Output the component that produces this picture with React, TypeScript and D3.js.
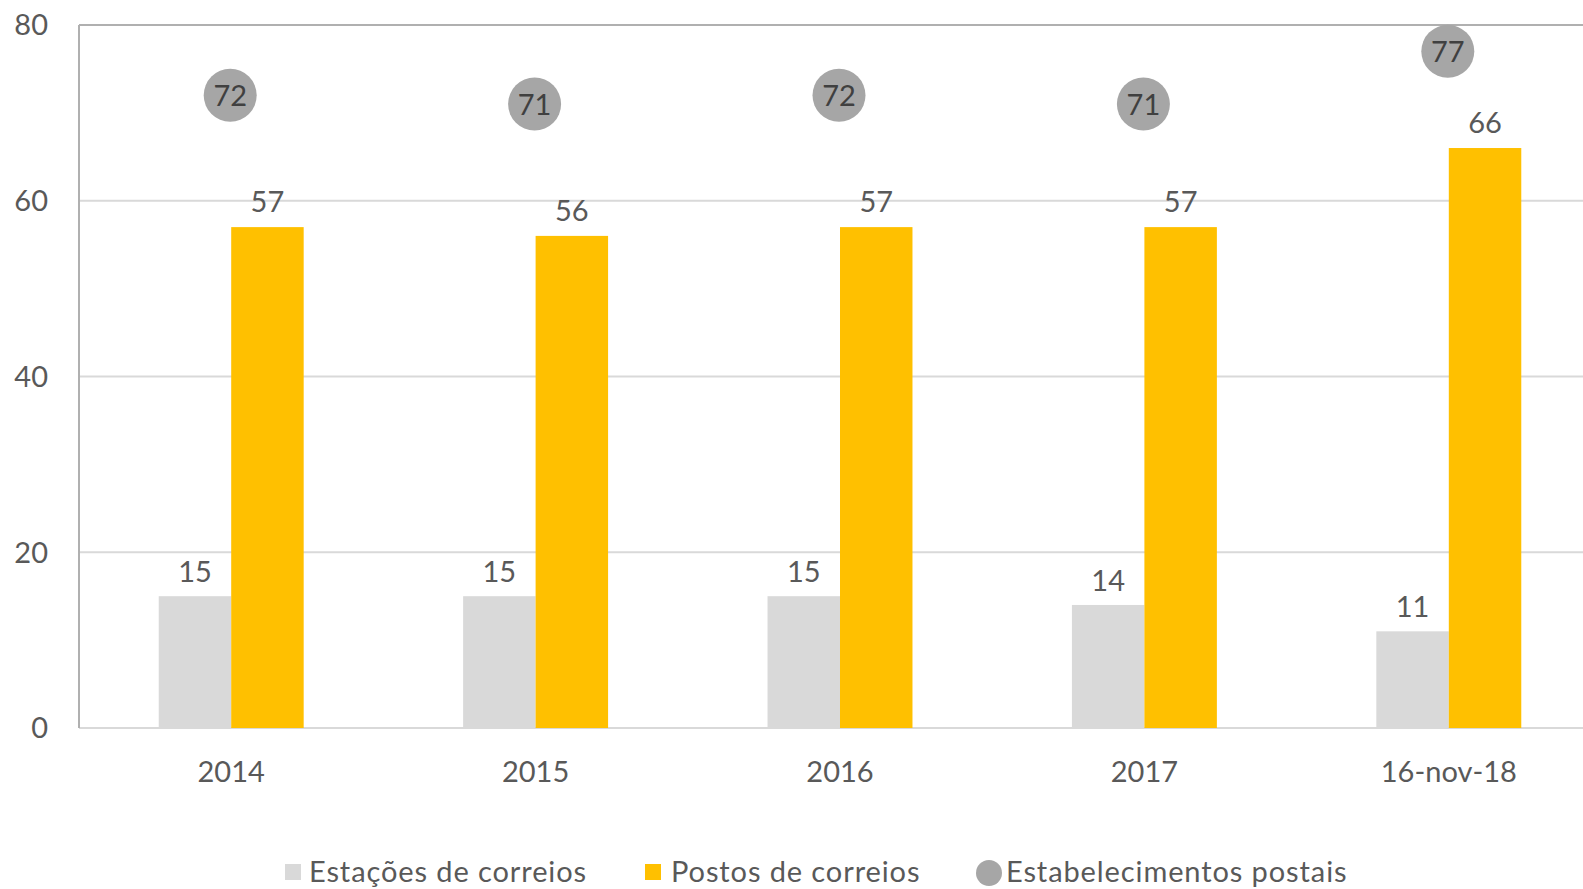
import React from "react";
import * as d3 from "d3";

const categories = ["2014", "2015", "2016", "2017", "16-nov-18"];
const estacoes = [15, 15, 15, 14, 11];
const postos = [57, 56, 57, 57, 66];
const estabelecimentos = [72, 71, 72, 71, 77];
const yTicks = [0, 20, 40, 60, 80];
const seriesNames = ["Estações de correios", "Postos de correios", "Estabelecimentos postais"];

const W = 1583;
const H = 889;
const FONT = "Lato, 'Liberation Sans', sans-serif";
const TXT = "#595959";
const GRAY = "#d9d9d9";
const YELLOW = "#ffc000";
const DOT = "#a6a6a6";

export default function App() {
  const x = d3.scaleBand<string>().domain(categories).range([79, 1601]).paddingInner(0).paddingOuter(0);
  const y = d3.scaleLinear().domain([0, 80]).range([728, 25]);
  const inner = d3.scaleBand<string>().domain(["e", "p"]).range([0, x.bandwidth()]).paddingInner(0).paddingOuter(1.1);
  const bw = inner.bandwidth();

  return (
    <svg width={W} height={H} style={{ position: "absolute", left: 0, top: 0, background: "#fff" }} fontFamily={FONT}>
      {yTicks.filter((t) => t > 0 && t < 80).map((t) => (
        <line key={t} x1={79} x2={1601} y1={y(t)} y2={y(t)} stroke="#d9d9d9" strokeWidth={2} />
      ))}
      <line x1={79} x2={1601} y1={y(80)} y2={y(80)} stroke="#b0b0b0" strokeWidth={2} />
      <line x1={79} x2={1601} y1={y(0)} y2={y(0)} stroke="#d9d9d9" strokeWidth={2} />
      <line x1={79} x2={79} y1={y(80)} y2={y(0)} stroke="#b0b0b0" strokeWidth={2} />
      {yTicks.map((t) => (
        <text key={t} x={48} y={y(t)} dy="0.36em" textAnchor="end" fontSize={29} fill={TXT}>{t}</text>
      ))}
      {categories.map((c, i) => {
        const x0 = x(c)!;
        const xe = x0 + inner("e")!;
        const xp = x0 + inner("p")!;
        return (
          <g key={c}>
            <rect x={xe} y={y(estacoes[i])} width={bw} height={y(0) - y(estacoes[i])} fill={GRAY} />
            <rect x={xp} y={y(postos[i])} width={bw} height={y(0) - y(postos[i])} fill={YELLOW} />
            <text x={xe + bw / 2} y={y(estacoes[i]) - 14} textAnchor="middle" fontSize={29} fill={TXT}>{estacoes[i]}</text>
            <text x={xp + bw / 2} y={y(postos[i]) - 15} textAnchor="middle" fontSize={29} fill={TXT}>{postos[i]}</text>
            <text x={x0 + x.bandwidth() / 2} y={y(0) + 44} fontSize={29} dy="0.36em" textAnchor="middle" fill={TXT}>{c}</text>
          </g>
        );
      })}
      {categories.map((c, i) => {
        const cx = x(c)! + x.bandwidth() / 2 - 1;
        const cy = y(estabelecimentos[i]);
        return (
          <g key={"d" + c}>
            <circle cx={cx} cy={cy} r={26.5} fill={DOT} />
            <text x={cx} y={cy} dy="0.36em" textAnchor="middle" fontSize={29} fill="#404040">{estabelecimentos[i]}</text>
          </g>
        );
      })}
      <g fontSize={29} fill={TXT} letterSpacing={0.9}>
        <rect x={285} y={864} width={16} height={16} fill={GRAY} />
        <text x={309} y={872} dy="0.36em">{seriesNames[0]}</text>
        <rect x={645} y={864} width={16} height={16} fill={YELLOW} />
        <text x={671} y={872} dy="0.36em">{seriesNames[1]}</text>
        <circle cx={989} cy={873} r={13} fill={DOT} />
        <text x={1006} y={872} dy="0.36em">{seriesNames[2]}</text>
      </g>
    </svg>
  );
}
